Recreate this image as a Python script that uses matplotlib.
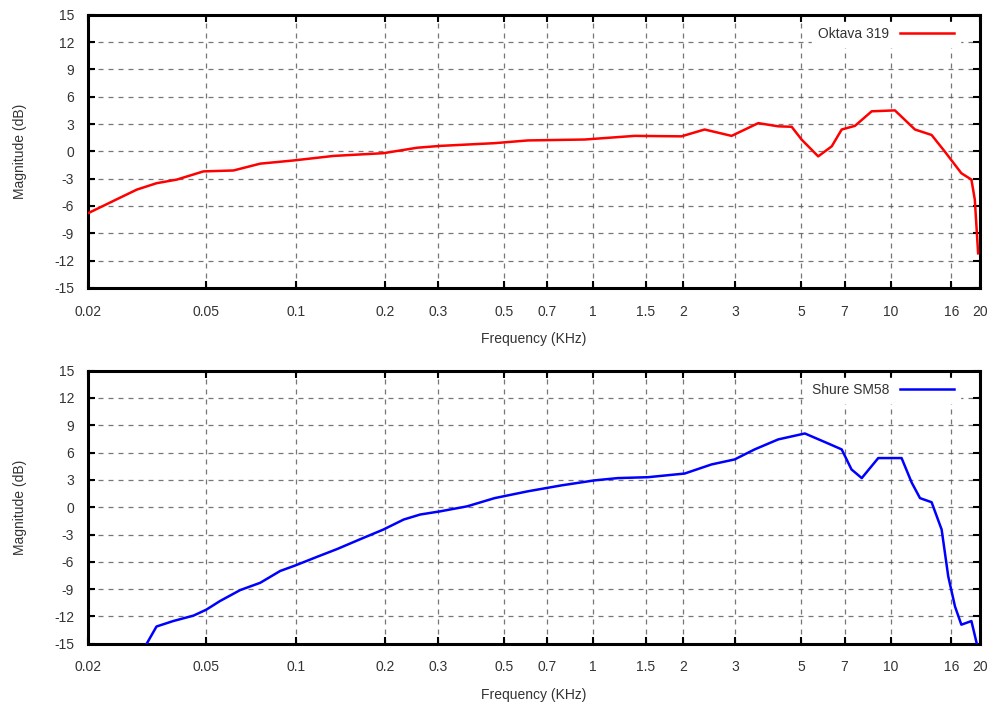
import numpy as np
import matplotlib.pyplot as plt
import matplotlib as mpl

mpl.rcParams['font.family'] = 'Liberation Sans'
mpl.rcParams['font.size'] = 10
mpl.rcParams['axes.unicode_minus'] = False

#===============#
# chart data    #
#===============#
xtick_vals = [0.02, 0.05, 0.1, 0.2, 0.3, 0.5, 0.7, 1, 1.5, 2, 3, 5, 7, 10, 16, 20]
xtick_labels = ["0.02", "0.05", "0.1", "0.2", "0.3", "0.5", "0.7", "1", "1.5", "2",
                "3", "5", "7", "10", "16", "20"]
ytick_vals = [-15, -12, -9, -6, -3, 0, 3, 6, 9, 12, 15]

# Oktava 319 (kHz, dB)
oktava_f = [0.02, 0.0256, 0.0292, 0.034, 0.0398, 0.0489, 0.0617, 0.0759, 0.0982,
            0.134, 0.197, 0.256, 0.306, 0.466, 0.603, 0.936, 1.379, 1.98, 2.37,
            2.92, 3.59, 4.19, 4.65, 5.02, 5.71, 6.34, 6.85, 7.59, 8.64, 10.34,
            12.08, 13.74, 15.2, 17.3, 18.7, 19.2, 19.7]
oktava_db = [-6.8, -5.1, -4.2, -3.5, -3.1, -2.2, -2.1, -1.35, -1.0,
             -0.5, -0.2, 0.4, 0.6, 0.9, 1.2, 1.3, 1.7, 1.65, 2.4,
             1.7, 3.1, 2.75, 2.7, 1.3, -0.55, 0.55, 2.4, 2.8, 4.4, 4.5,
             2.4, 1.8, 0.0, -2.4, -3.1, -5.3, -11.2]

# Shure SM58 (kHz, dB)
shure_f = [0.0315, 0.034, 0.0387, 0.0453, 0.05, 0.0556, 0.065, 0.0759, 0.0886,
           0.0995, 0.1178, 0.1375, 0.165, 0.197, 0.2306, 0.262, 0.306, 0.377,
           0.466, 0.603, 0.782, 1.011, 1.21, 1.53, 2.03, 2.5, 2.99, 3.49, 4.19,
           5.15, 6.17, 6.85, 7.39, 8.0, 9.09, 10.89, 11.78, 12.56, 13.74, 14.85,
           15.63, 16.47, 17.3, 18.7, 19.5]
shure_db = [-15.0, -13.1, -12.5, -11.9, -11.25, -10.3, -9.1, -8.3, -7.0,
            -6.4, -5.45, -4.6, -3.5, -2.45, -1.35, -0.8, -0.45, 0.1,
            1.0, 1.75, 2.4, 2.95, 3.2, 3.3, 3.7, 4.7, 5.25, 6.35, 7.45,
            8.1, 7.0, 6.35, 4.15, 3.2, 5.4, 5.4, 2.7, 1.0, 0.55, -2.45,
            -7.6, -10.9, -12.9, -12.5, -15.0]

fig = plt.figure(figsize=(9.94, 7.04), dpi=100)
ax1 = fig.add_axes([0.0885, 0.591, 0.8975, 0.388])
ax2 = fig.add_axes([0.0885, 0.0855, 0.8975, 0.388])

series = [(ax1, oktava_f, oktava_db, '#ff0000', "Oktava 319"),
          (ax2, shure_f, shure_db, '#0000ff', "Shure SM58")]

for ax, f, db, col, name in series:
    ax.plot(f, db, color=col, lw=1.8, label=name, zorder=3)
    ax.set_xscale('log')
    ax.set_xlim(0.02, 20)
    ax.set_ylim(-15, 15)
    ax.set_xticks(xtick_vals)
    ax.set_xticklabels(xtick_labels)
    ax.xaxis.set_minor_locator(mpl.ticker.NullLocator())
    ax.set_yticks(ytick_vals)
    ax.grid(True, color='#555555', ls=(0, (4, 4)), lw=0.9, alpha=0.8)
    ax.tick_params(axis='both', which='major', direction='in', top=True, right=True,
                   length=5, width=1.5, colors='black', labelcolor='#333333')
    ax.tick_params(axis='x', pad=12)
    ax.tick_params(axis='y', pad=10)
    for s in ax.spines.values():
        s.set_linewidth(2.2)
    ax.set_ylabel("Magnitude (dB)", color='#333333')
    ax.yaxis.set_label_coords(-0.068, 0.5)
    ax.set_xlabel("Frequency (KHz)", color='#333333', labelpad=10)
    leg = ax.legend(loc='upper right', markerfirst=False, frameon=True,
                    handlelength=3.9, borderaxespad=0.5, fancybox=False,
                    bbox_to_anchor=(0.985, 1.0))
    leg.get_frame().set_edgecolor('white')
    leg.get_frame().set_facecolor('white')
    leg.get_frame().set_alpha(1.0)
    for t in leg.get_texts():
        t.set_color('#333333')

fig.savefig("out.png", dpi=100)
